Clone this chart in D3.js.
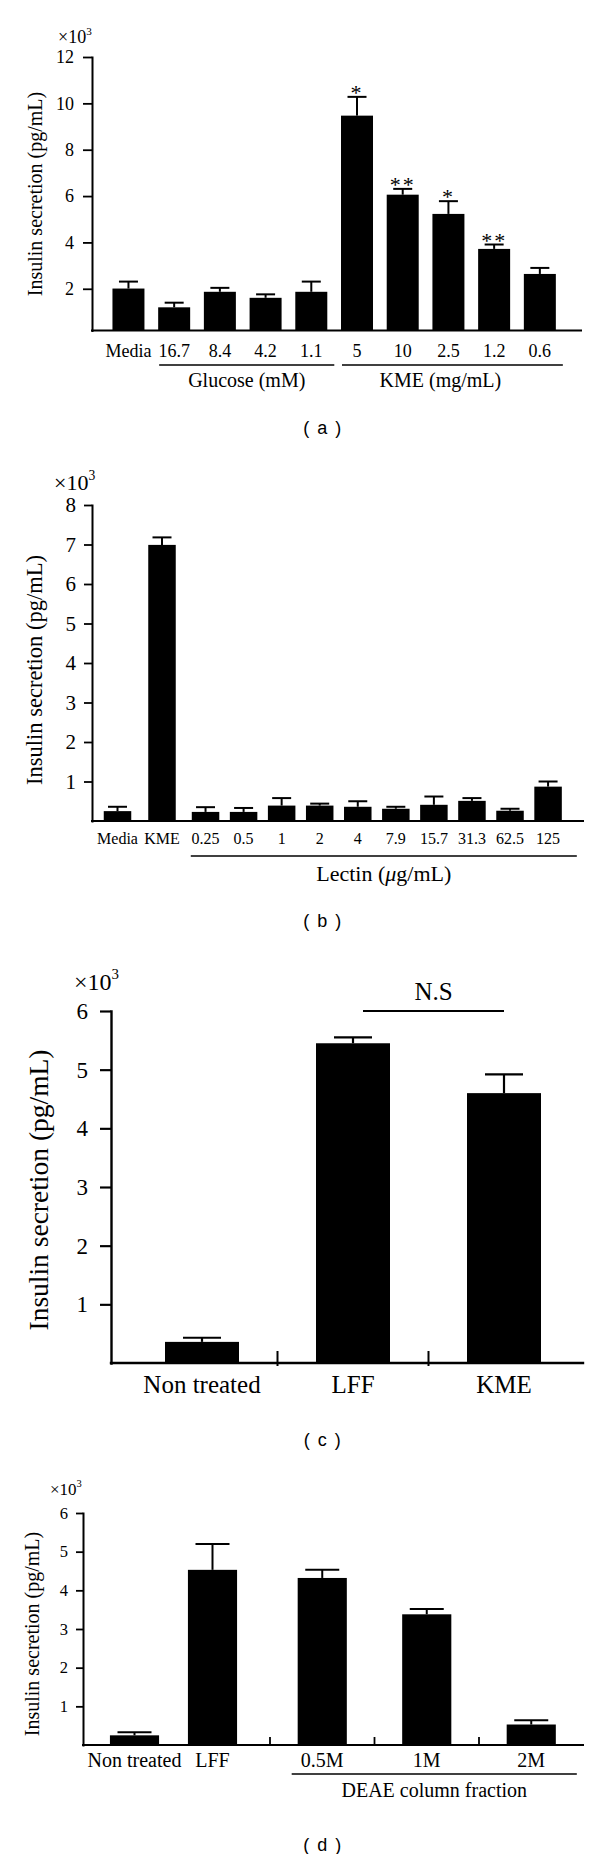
<!DOCTYPE html>
<html>
<head>
<meta charset="utf-8">
<script src="https://cdn.jsdelivr.net/npm/d3@7"></script>
<style>
  html, body { margin: 0; padding: 0; background: #fff; }
  svg { display: block; }
</style>
</head>
<body>
<svg id="chart" width="600" height="1854"></svg>
<script>
// ---------------- DATA ----------------
// Panel (a)
const catsA   = ["Media", "16.7", "8.4", "4.2", "1.1", "5", "10", "2.5", "1.2", "0.6"];
const valsA   = [2.01, 1.20, 1.87, 1.61, 1.87, 9.47, 6.06, 5.23, 3.72, 2.64];
const errA    = [0.30, 0.20, 0.17, 0.15, 0.44, 0.81, 0.25, 0.55, 0.19, 0.26];
const starsA  = ["", "", "", "", "", "*", "**", "*", "**", ""];
const ticksA  = [2, 4, 6, 8, 10, 12];
const groupsA = [
  { label: "Glucose (mM)", from: "16.7", to: "1.1" },
  { label: "KME (mg/mL)",  from: "5",    to: "0.6" }
];

// Panel (b)
const catsB  = ["Media", "KME", "0.25", "0.5", "1", "2", "4", "7.9", "15.7", "31.3", "62.5", "125"];
const groupB = ["ctrl", "ctrl", "lectin", "lectin", "lectin", "lectin", "lectin", "lectin", "lectin", "lectin", "lectin", "lectin"];
const valsB  = [0.25, 6.99, 0.23, 0.23, 0.39, 0.39, 0.36, 0.31, 0.41, 0.51, 0.26, 0.87];
const errB   = [0.11, 0.19, 0.12, 0.10, 0.19, 0.05, 0.14, 0.05, 0.21, 0.07, 0.05, 0.13];
const ticksB = [1, 2, 3, 4, 5, 6, 7, 8];

// Panel (c)
const catsC  = ["Non treated", "LFF", "KME"];
const valsC  = [0.36, 5.45, 4.60];
const errC   = [0.07, 0.10, 0.32];
const ticksC = [1, 2, 3, 4, 5, 6];

// Panel (d)
const catsD   = ["Non treated", "LFF", "0.5M", "1M", "2M"];
const groupD  = ["ctrl", "ctrl", "deae", "deae", "deae"];
const valsD   = [0.25, 4.53, 4.32, 3.38, 0.53];
const errD    = [0.08, 0.67, 0.21, 0.14, 0.11];
const ticksD  = [1, 2, 3, 4, 5, 6];

const yTitle = "Insulin secretion (pg/mL)";

// ---------------- DRAWING ----------------
const svg = d3.select("#chart");
const SERIF = "'Liberation Serif', 'Times New Roman', serif";
const SANS  = "'Liberation Sans', Arial, sans-serif";

function yAxis(g, y, o) {
  const ax = d3.axisLeft(y).tickValues(o.ticks).tickSize(o.tickLen)
    .tickSizeOuter(0).tickPadding(o.tickPad).tickFormat(d3.format("d"));
  const a = g.append("g").attr("transform", `translate(${o.axisX},0)`).call(ax);
  a.select(".domain").attr("stroke", "#000").attr("stroke-width", o.sw).attr("stroke-linecap", "square");
  a.selectAll(".tick line").attr("stroke", "#000").attr("stroke-width", o.sw * 0.9);
  a.selectAll(".tick text").attr("fill", "#000").attr("font-family", SERIF)
    .attr("font-size", o.tickFont);
}

function xAxisLine(g, o, yBase) {
  g.append("line").attr("x1", o.axisX).attr("x2", o.axisEnd)
    .attr("y1", yBase).attr("y2", yBase)
    .attr("stroke", "#000").attr("stroke-width", o.sw).attr("stroke-linecap", "square");
}

function bars(g, cats, vals, errs, xLeft, bw, y, yBase, cap, sw) {
  const data = cats.map((c, i) => ({ c, v: vals[i], e: errs[i] }));
  g.selectAll(null).data(data).enter().append("rect")
    .attr("x", d => xLeft(d.c)).attr("y", d => y(d.v))
    .attr("width", bw).attr("height", d => yBase - y(d.v))
    .attr("fill", "#000");
  g.selectAll(null).data(data).enter().append("line")
    .attr("x1", d => xLeft(d.c) + bw / 2).attr("x2", d => xLeft(d.c) + bw / 2)
    .attr("y1", d => y(d.v)).attr("y2", d => y(d.v + d.e))
    .attr("stroke", "#000").attr("stroke-width", sw);
  g.selectAll(null).data(data).enter().append("line")
    .attr("x1", d => xLeft(d.c) + bw / 2 - cap / 2).attr("x2", d => xLeft(d.c) + bw / 2 + cap / 2)
    .attr("y1", d => y(d.v + d.e)).attr("y2", d => y(d.v + d.e))
    .attr("stroke", "#000").attr("stroke-width", sw);
}

function catLabels(g, cats, xLeft, bw, yText, size) {
  g.selectAll(null).data(cats).enter().append("text")
    .attr("x", c => xLeft(c) + bw / 2).attr("y", yText)
    .attr("text-anchor", "middle").attr("font-family", SERIF)
    .attr("font-size", size).attr("fill", "#000").text(c => c);
}

function titleY(g, x, yc, size) {
  g.append("text").attr("transform", `translate(${x},${yc}) rotate(-90)`)
    .attr("text-anchor", "middle").attr("font-family", SERIF)
    .attr("font-size", size).attr("fill", "#000").text(yTitle);
}

function times10(g, x, yb, size) {
  const t = g.append("text").attr("x", x).attr("y", yb)
    .attr("font-family", SERIF).attr("font-size", size).attr("fill", "#000");
  t.append("tspan").text("×10");
  t.append("tspan").attr("font-size", size * 0.62).attr("dy", -size * 0.45).text("3");
}

function caption(label, yb) {
  svg.append("text").attr("x", 323).attr("y", yb).attr("text-anchor", "middle")
    .attr("font-family", SANS).attr("font-size", 18).attr("letter-spacing", 1.5)
    .attr("fill", "#000").text("( " + label + " )");
}

// two-group band positioning helper
function groupedLeft(cats, groups, scales, bw) {
  return c => {
    const i = cats.indexOf(c);
    const s = scales[groups[i]];
    return s(c) + (s.bandwidth() - bw) / 2;
  };
}

// ===== Panel (a) =====
{
  const o = { axisX: 92, axisEnd: 581, ticks: ticksA, tickLen: 9, tickPad: 9, tickFont: 18, sw: 2 };
  const g = svg.append("g");
  const y = d3.scaleLinear().domain([0.2, 12]).range([330.5, 57]);
  const x = d3.scaleBand().domain(catsA).range([105.6, 562.7]).paddingInner(0.3).paddingOuter(0.15);
  const yBase = y(0.2);
  yAxis(g, y, o);
  bars(g, catsA, valsA, errA, x, x.bandwidth(), y, yBase, 19, 2);
  xAxisLine(g, o, yBase);
  catLabels(g, catsA, x, x.bandwidth(), 357, 18);
  // significance stars
  g.selectAll(null).data(catsA.map((c, i) => ({ c, s: starsA[i], t: valsA[i] + errA[i] })))
    .enter().append("text")
    .attr("x", d => x(d.c) + x.bandwidth() / 2).attr("y", d => y(d.t) + 3)
    .attr("text-anchor", "middle").attr("font-family", SERIF).attr("font-size", 22)
    .attr("letter-spacing", 2).attr("fill", "#000").text(d => d.s);
  // group lines and labels
  groupsA.forEach((gr, i) => {
    const x1 = x(gr.from) + 1, x2 = x(gr.to) + x.bandwidth() + 7;
    g.append("line").attr("x1", x1).attr("x2", x2).attr("y1", 365).attr("y2", 365)
      .attr("stroke", "#000").attr("stroke-width", 1.6);
    g.append("text").attr("x", (x1 + x2) / 2 - (i === 1 ? 12 : 0)).attr("y", 387)
      .attr("text-anchor", "middle").attr("font-family", SERIF).attr("font-size", 20)
      .attr("fill", "#000").text(gr.label);
  });
  titleY(g, 42, 194, 20);
  times10(g, 58, 43, 18);
  caption("a", 434);
}

// ===== Panel (b) =====
{
  const o = { axisX: 92, axisEnd: 583, ticks: ticksB, tickLen: 8, tickPad: 8, tickFont: 21, sw: 2 };
  const g = svg.append("g");
  const y = d3.scaleLinear().domain([0, 8]).range([821, 505]);
  const bw = 27.5;
  const xCtrl = d3.scaleBand().domain(catsB.filter((c, i) => groupB[i] === "ctrl"))
    .range([95.25, 184.25]).paddingInner(0.38).paddingOuter(0.19);
  const xLec = d3.scaleBand().domain(catsB.filter((c, i) => groupB[i] === "lectin"))
    .range([186.5, 567.1]).paddingInner(0.28).paddingOuter(0.14);
  const xLeft = groupedLeft(catsB, groupB, { ctrl: xCtrl, lectin: xLec }, bw);
  const yBase = y(0);
  yAxis(g, y, o);
  bars(g, catsB, valsB, errB, xLeft, bw, y, yBase, 19, 2);
  xAxisLine(g, o, yBase);
  catLabels(g, catsB, xLeft, bw, 844, 16);
  const dom = xLec.domain();
  const x1 = xLeft(dom[0]) - 1, x2 = xLeft(dom[dom.length - 1]) + bw + 15;
  g.append("line").attr("x1", x1).attr("x2", x2).attr("y1", 856).attr("y2", 856)
    .attr("stroke", "#000").attr("stroke-width", 1.6);
  const t = g.append("text").attr("x", (x1 + x2) / 2).attr("y", 881)
    .attr("text-anchor", "middle").attr("font-family", SERIF).attr("font-size", 22).attr("fill", "#000");
  t.append("tspan").text("Lectin (");
  t.append("tspan").attr("font-style", "italic").text("μ");
  t.append("tspan").text("g/mL)");
  titleY(g, 41.5, 670, 22.5);
  times10(g, 54, 490, 22);
  caption("b", 927);
}

// ===== Panel (c) =====
{
  const o = { axisX: 111, axisEnd: 583, ticks: ticksC, tickLen: 11, tickPad: 12, tickFont: 23, sw: 2.4 };
  const g = svg.append("g");
  const y = d3.scaleLinear().domain([0, 6]).range([1363, 1011]);
  const x = d3.scaleBand().domain(catsC).range([126.5, 579.5]).paddingInner(0.51).paddingOuter(0.255);
  const yBase = y(0);
  yAxis(g, y, o);
  bars(g, catsC, valsC, errC, x, x.bandwidth(), y, yBase, 38, 2.2);
  xAxisLine(g, o, yBase);
  // separators between categories
  g.selectAll(null).data(catsC.slice(1)).enter().append("line")
    .attr("x1", c => x(c) - x.step() * x.paddingInner() / 2)
    .attr("x2", c => x(c) - x.step() * x.paddingInner() / 2)
    .attr("y1", yBase - 12).attr("y2", yBase + 3)
    .attr("stroke", "#000").attr("stroke-width", 2);
  catLabels(g, catsC, x, x.bandwidth(), 1393, 25);
  // N.S bracket
  const nx1 = x("LFF") + x.bandwidth() / 2 + 10, nx2 = x("KME") + x.bandwidth() / 2;
  g.append("line").attr("x1", nx1).attr("x2", nx2).attr("y1", y(6)).attr("y2", y(6))
    .attr("stroke", "#000").attr("stroke-width", 2);
  g.append("text").attr("x", (nx1 + nx2) / 2).attr("y", 1000).attr("text-anchor", "middle")
    .attr("font-family", SERIF).attr("font-size", 25).attr("fill", "#000").text("N.S");
  titleY(g, 48, 1190, 27.5);
  times10(g, 74, 990, 24);
  caption("c", 1446);
}

// ===== Panel (d) =====
{
  const o = { axisX: 83, axisEnd: 583, ticks: ticksD, tickLen: 7, tickPad: 8, tickFont: 16.5, sw: 2 };
  const g = svg.append("g");
  const y = d3.scaleLinear().domain([0, 6]).range([1745, 1513]);
  const xCtrl = d3.scaleBand().domain(catsD.filter((c, i) => groupD[i] === "ctrl"))
    .range([95.5, 251.5]).paddingInner(0.37).paddingOuter(0.185);
  const xDeae = d3.scaleBand().domain(catsD.filter((c, i) => groupD[i] === "deae"))
    .range([270, 583.5]).paddingInner(0.53).paddingOuter(0.265);
  const bw = xCtrl.bandwidth();
  const xLeft = groupedLeft(catsD, groupD, { ctrl: xCtrl, deae: xDeae }, bw);
  const yBase = y(0);
  yAxis(g, y, o);
  bars(g, catsD, valsD, errD, xLeft, bw, y, yBase, 34, 2);
  xAxisLine(g, o, yBase);
  // separators before each DEAE band
  g.selectAll(null).data(xDeae.domain()).enter().append("line")
    .attr("x1", c => xDeae(c) - xDeae.step() * xDeae.paddingInner() / 2)
    .attr("x2", c => xDeae(c) - xDeae.step() * xDeae.paddingInner() / 2)
    .attr("y1", yBase - 8).attr("y2", yBase)
    .attr("stroke", "#000").attr("stroke-width", 1.8);
  catLabels(g, catsD, xLeft, bw, 1767, 20);
  const dom = xDeae.domain();
  const x1 = xLeft(dom[0]) - 6, x2 = xLeft(dom[dom.length - 1]) + bw + 21;
  g.append("line").attr("x1", x1).attr("x2", x2).attr("y1", 1774).attr("y2", 1774)
    .attr("stroke", "#000").attr("stroke-width", 1.6);
  g.append("text").attr("x", (x1 + x2) / 2).attr("y", 1797).attr("text-anchor", "middle")
    .attr("font-family", SERIF).attr("font-size", 20).attr("fill", "#000").text("DEAE column fraction");
  titleY(g, 38.5, 1634, 20);
  times10(g, 50, 1495, 17);
  caption("d", 1851);
}
</script>
</body>
</html>
